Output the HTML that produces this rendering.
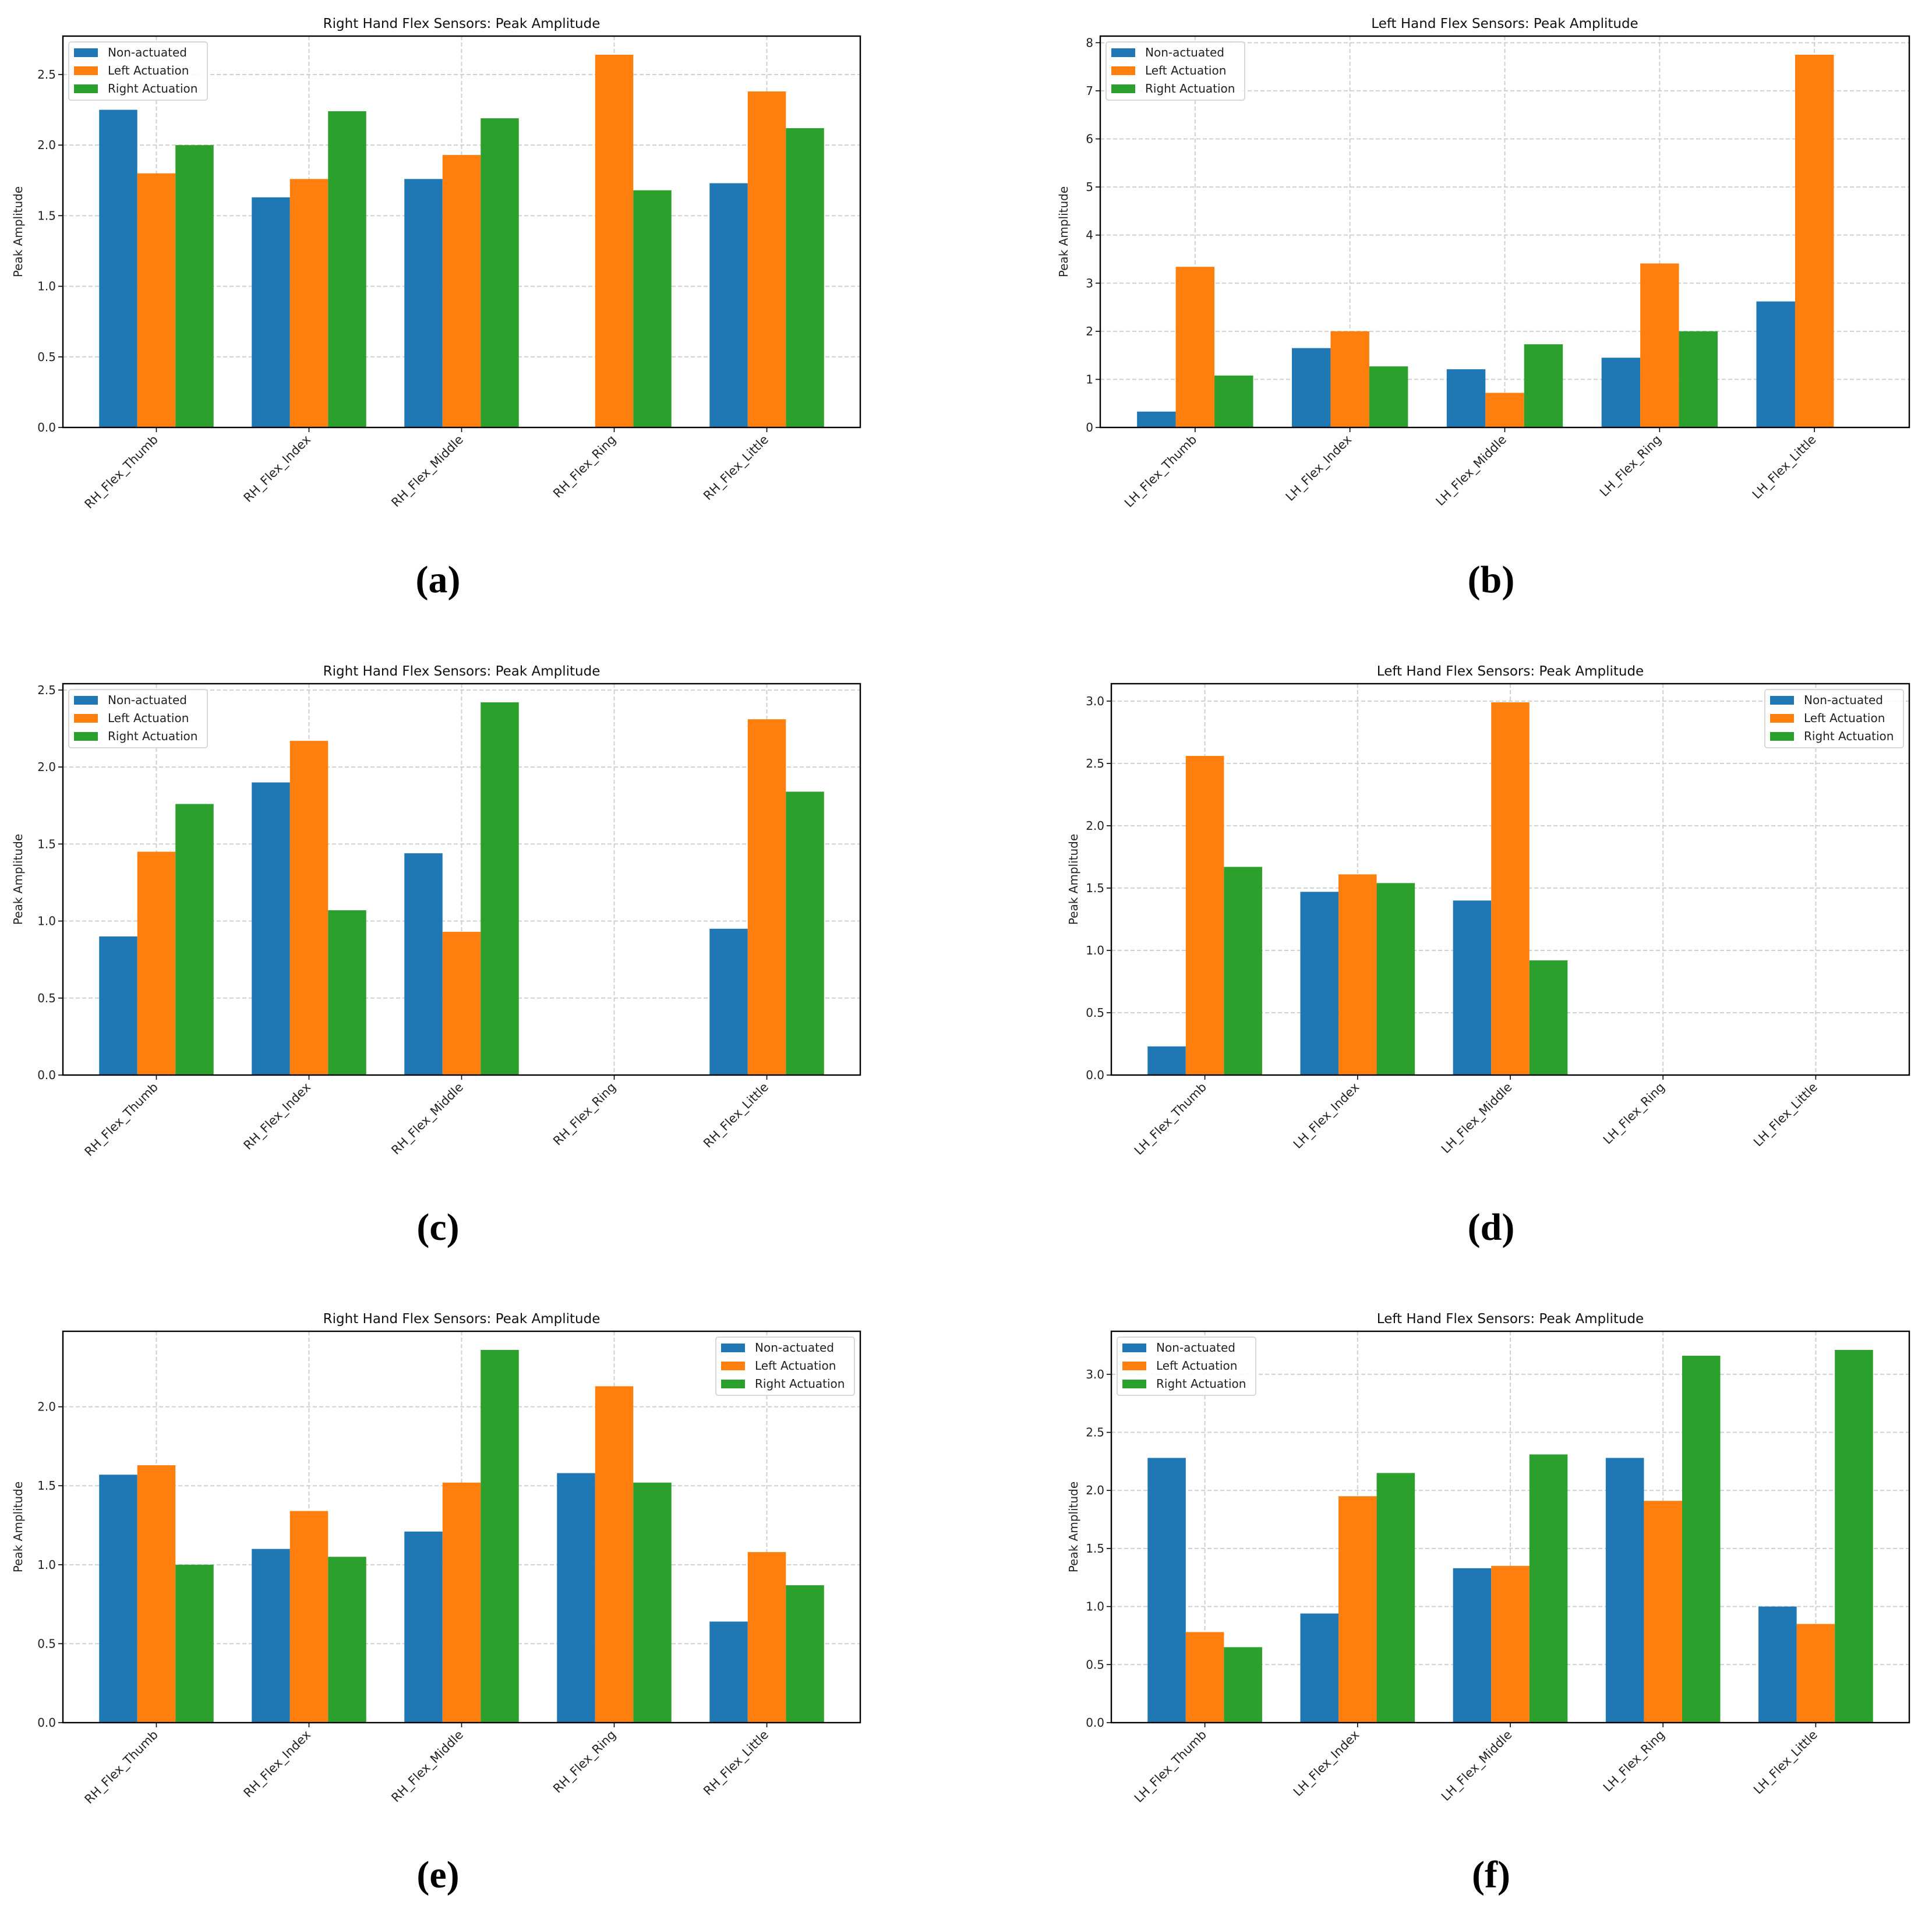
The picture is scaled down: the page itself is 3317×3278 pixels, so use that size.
<!DOCTYPE html>
<html><head><meta charset="utf-8"><style>
body{margin:0;background:#fff;}
svg{display:block;font-family:"DejaVu Sans","Liberation Sans",sans-serif;}
</style></head>
<body>
<svg id="fig" width="3317" height="3278" viewBox="0 0 3317 3278" xmlns="http://www.w3.org/2000/svg"></svg>
<script>
const seriesNames = ["Non-actuated","Left Actuation","Right Actuation"];
const colors = ["#1f77b4","#ff7f0e","#2ca02c"];
const rhCats = ["RH_Flex_Thumb","RH_Flex_Index","RH_Flex_Middle","RH_Flex_Ring","RH_Flex_Little"];
const lhCats = ["LH_Flex_Thumb","LH_Flex_Index","LH_Flex_Middle","LH_Flex_Ring","LH_Flex_Little"];

const aNon = [2.25,1.63,1.76,0,1.73];
const aLeft = [1.80,1.76,1.93,2.64,2.38];
const aRight = [2.00,2.24,2.19,1.68,2.12];
const bNon = [0.33,1.65,1.21,1.45,2.62];
const bLeft = [3.34,2.00,0.72,3.41,7.75];
const bRight = [1.08,1.27,1.73,2.00,0];
const cNon = [0.90,1.90,1.44,0,0.95];
const cLeft = [1.45,2.17,0.93,0,2.31];
const cRight = [1.76,1.07,2.42,0,1.84];
const dNon = [0.23,1.47,1.40,0,0];
const dLeft = [2.56,1.61,2.99,0,0];
const dRight = [1.67,1.54,0.92,0,0];
const eNon = [1.57,1.10,1.21,1.58,0.64];
const eLeft = [1.63,1.34,1.52,2.13,1.08];
const eRight = [1.00,1.05,2.36,1.52,0.87];
const fNon = [2.28,0.94,1.33,2.28,1.00];
const fLeft = [0.78,1.95,1.35,1.91,0.85];
const fRight = [0.65,2.15,2.31,3.16,3.21];

const panels = [
 {id:"a",title:"Right Hand Flex Sensors: Peak Amplitude",cats:rhCats,s:[aNon,aLeft,aRight],step:0.5,dec:1,leg:"left",x0:108,x1:1477,y0:62,ylab:38,lab:752},
 {id:"b",title:"Left Hand Flex Sensors: Peak Amplitude",cats:lhCats,s:[bNon,bLeft,bRight],step:1,dec:0,leg:"left",x0:1889,x1:3278,y0:62,ylab:1833,lab:2560},
 {id:"c",title:"Right Hand Flex Sensors: Peak Amplitude",cats:rhCats,s:[cNon,cLeft,cRight],step:0.5,dec:1,leg:"left",x0:108,x1:1477,y0:1174,ylab:38,lab:752},
 {id:"d",title:"Left Hand Flex Sensors: Peak Amplitude",cats:lhCats,s:[dNon,dLeft,dRight],step:0.5,dec:1,leg:"right",x0:1908,x1:3278,y0:1174,ylab:1850,lab:2560},
 {id:"e",title:"Right Hand Flex Sensors: Peak Amplitude",cats:rhCats,s:[eNon,eLeft,eRight],step:0.5,dec:1,leg:"right",x0:108,x1:1477,y0:2286,ylab:38,lab:752},
 {id:"f",title:"Left Hand Flex Sensors: Peak Amplitude",cats:lhCats,s:[fNon,fLeft,fRight],step:0.5,dec:1,leg:"left",x0:1908,x1:3278,y0:2286,ylab:1850,lab:2560}
];
const H = 672;
const NS = "http://www.w3.org/2000/svg";
const fig = document.getElementById("fig");
function mk(tag, attrs, parent, text){
  const e = document.createElementNS(NS, tag);
  for (const k in attrs) e.setAttribute(k, attrs[k]);
  if (text !== undefined) e.textContent = text;
  (parent||fig).appendChild(e);
  return e;
}
panels.forEach(p=>{
  const g = mk("g",{});
  
  
  const y1 = p.y0 + H;
  let mx = 0; p.s.forEach(a=>a.forEach(v=>{if(v>mx)mx=v;}));
  const ymax = mx*1.05;
  const xmin=-0.6125, xmax=4.6125;
  const X = v => p.x0 + (v-xmin)/(xmax-xmin)*(p.x1-p.x0);
  const Y = v => y1 - v/ymax*H;
  for (let t=0; t<=ymax+1e-9; t+=p.step){
    const gl = mk("line",{x1:p.x0,x2:p.x1,y1:Y(t),y2:Y(t),stroke:"#d0d0d0","stroke-width":2,"stroke-dasharray":"7,4"},g);
    
    
    mk("line",{x1:p.x0-8,x2:p.x0,y1:Y(t),y2:Y(t),stroke:"#000","stroke-width":1.6},g);
    const tl = mk("text",{x:p.x0-12,y:Y(t)+7,"text-anchor":"end","font-size":20,fill:"#222"},g,t.toFixed(p.dec));
    
    
  }
  p.cats.forEach((c,i)=>{
    mk("line",{x1:X(i),x2:X(i),y1:p.y0,y2:y1,stroke:"#d0d0d0","stroke-width":2,"stroke-dasharray":"7,4"},g);
  });
  p.s.forEach((arr,si)=>{
    arr.forEach((v,i)=>{
      if (v<=0) return;
      const xl = X(i-0.375+si*0.25), xr = X(i-0.125+si*0.25);
      const r = mk("rect",{x:xl,y:Y(v),width:xr-xl,height:y1-Y(v),fill:colors[si]},g);
      
      
    });
  });
  p.cats.forEach((c,i)=>{
    mk("line",{x1:X(i),x2:X(i),y1:y1,y2:y1+8,stroke:"#000","stroke-width":1.6},g);
    const tx = X(i)+4, ty = y1+22;
    const xl = mk("text",{x:tx,y:ty,"text-anchor":"end","font-size":21,fill:"#222",transform:`rotate(-45 ${tx} ${ty})`},g,c);
    
    
  });
  const fr = mk("rect",{x:p.x0,y:p.y0,width:p.x1-p.x0,height:H,fill:"none",stroke:"#000","stroke-width":2.4},g);
  
  
  const tt = mk("text",{x:(p.x0+p.x1)/2,y:p.y0-14,"text-anchor":"middle","font-size":23,fill:"#111"},g,p.title);
  
  
  const yl = mk("text",{x:p.ylab,y:p.y0+H/2,"text-anchor":"middle","font-size":20,fill:"#222",transform:`rotate(-90 ${p.ylab} ${p.y0+H/2})`},g,"Peak Amplitude");
  
  
  const lw = 238, lh = 100;
  const lx = p.leg==="left" ? p.x0+10 : p.x1-10-lw;
  const ly = p.y0+10;
  const lg = mk("g",{},g);
  
  
  mk("rect",{x:lx,y:ly,width:lw,height:lh,rx:4,fill:"#fff","fill-opacity":0.85,stroke:"#d8d8d8","stroke-width":2},lg);
  seriesNames.forEach((n,si)=>{
    const ry = ly+11+si*31;
    mk("rect",{x:lx+9,y:ry,width:41,height:15,fill:colors[si]},lg);
    const le = mk("text",{x:lx+67,y:ry+14,"font-size":20,fill:"#222"},lg,n);
    
    
  });
  const sl = mk("text",{x:p.lab,y:y1+283,"text-anchor":"middle","font-size":66,"font-weight":"bold","font-family":"Liberation Serif, serif",fill:"#000"},g,"("+p.id+")");
  
  
});
</script>
</body></html>
